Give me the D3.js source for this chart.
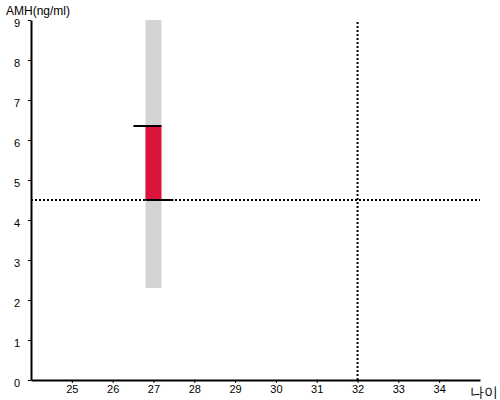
<!DOCTYPE html>
<html><head><meta charset="utf-8">
<script src="https://cdn.jsdelivr.net/npm/d3@7"></script>
<style>body{margin:0;background:#fff}svg{display:block}text{font-family:Arial,"Liberation Sans",sans-serif}</style>
</head><body><div id="c"></div>
<script>
const xTicks = [25,26,27,28,29,30,31,32,33,34];
const yTicks = [0,1,2,3,4,5,6,7,8,9];
const rangeAge = [27];
const rangeLow = [2.3];
const rangeHigh = [9];
const valueAge = [27];
const valueLow = [4.5];
const valueHigh = [6.35];
const refAge = 32;
const refAMH = 4.5;

const W=500,H=400;
const svg=d3.select("#c").append("svg").attr("width",W).attr("height",H);
const x=d3.scaleLinear().domain([24,35]).range([31,480]);
const y=d3.scaleLinear().domain([0,9]).range([380,20]);

const bw=16;
svg.selectAll("rect.rng").data(rangeAge).enter().append("rect")
 .attr("x",d=>x(d)-bw/2).attr("width",bw)
 .attr("y",(d,i)=>y(rangeHigh[i])).attr("height",(d,i)=>y(rangeLow[i])-y(rangeHigh[i]))
 .attr("fill","#d3d3d3");
svg.selectAll("rect.val").data(valueAge).enter().append("rect")
 .attr("x",d=>x(d)-bw/2).attr("width",bw)
 .attr("y",(d,i)=>y(valueHigh[i])).attr("height",(d,i)=>y(valueLow[i])-y(valueHigh[i]))
 .attr("fill","#dc143c");

svg.append("line").attr("x1",x(24)).attr("x2",x(35)).attr("y1",y(refAMH)).attr("y2",y(refAMH))
 .attr("stroke","#000").attr("stroke-width",2).attr("stroke-dasharray","2,2");
svg.append("line").attr("x1",x(refAge)).attr("x2",x(refAge)).attr("y1",y(0)).attr("y2",y(9))
 .attr("stroke","#000").attr("stroke-width",2).attr("stroke-dasharray","2,2");

valueAge.forEach((a,i)=>{
  svg.append("line").attr("x1",x(a)-bw/2-12).attr("x2",x(a)+bw/2).attr("y1",y(valueHigh[i])).attr("y2",y(valueHigh[i]))
   .attr("stroke","#000").attr("stroke-width",2);
  svg.append("line").attr("x1",x(a)-bw/2).attr("x2",x(a)+bw/2+12).attr("y1",y(valueLow[i])).attr("y2",y(valueLow[i]))
   .attr("stroke","#000").attr("stroke-width",2);
});

const xa=svg.append("g").attr("transform",`translate(0,${y(0)})`)
 .call(d3.axisBottom(x).tickValues(xTicks).tickSize(3).tickSizeOuter(0).tickPadding(2));
const ya=svg.append("g").attr("transform",`translate(${x(24)},0)`)
 .call(d3.axisLeft(y).tickValues(yTicks).tickSize(3).tickSizeOuter(0).tickPadding(8));
[xa,ya].forEach(g=>{
  g.select(".domain").attr("stroke","#000").attr("stroke-width",2);
  g.selectAll(".tick line").attr("stroke","#000");
  g.selectAll(".tick text").attr("font-size",11).attr("fill","#000").attr("font-family","Arial,'Liberation Sans',sans-serif");
});
ya.selectAll(".tick text").attr("dy","0.6em");

svg.append("text").attr("x",6).attr("y",15).attr("font-size",12).attr("fill","#000").text("AMH(ng/ml)");
svg.append("text").attr("x",498).attr("y",397).attr("text-anchor","end").attr("font-size",14).attr("fill","#000").text("나이");
</script></body></html>
